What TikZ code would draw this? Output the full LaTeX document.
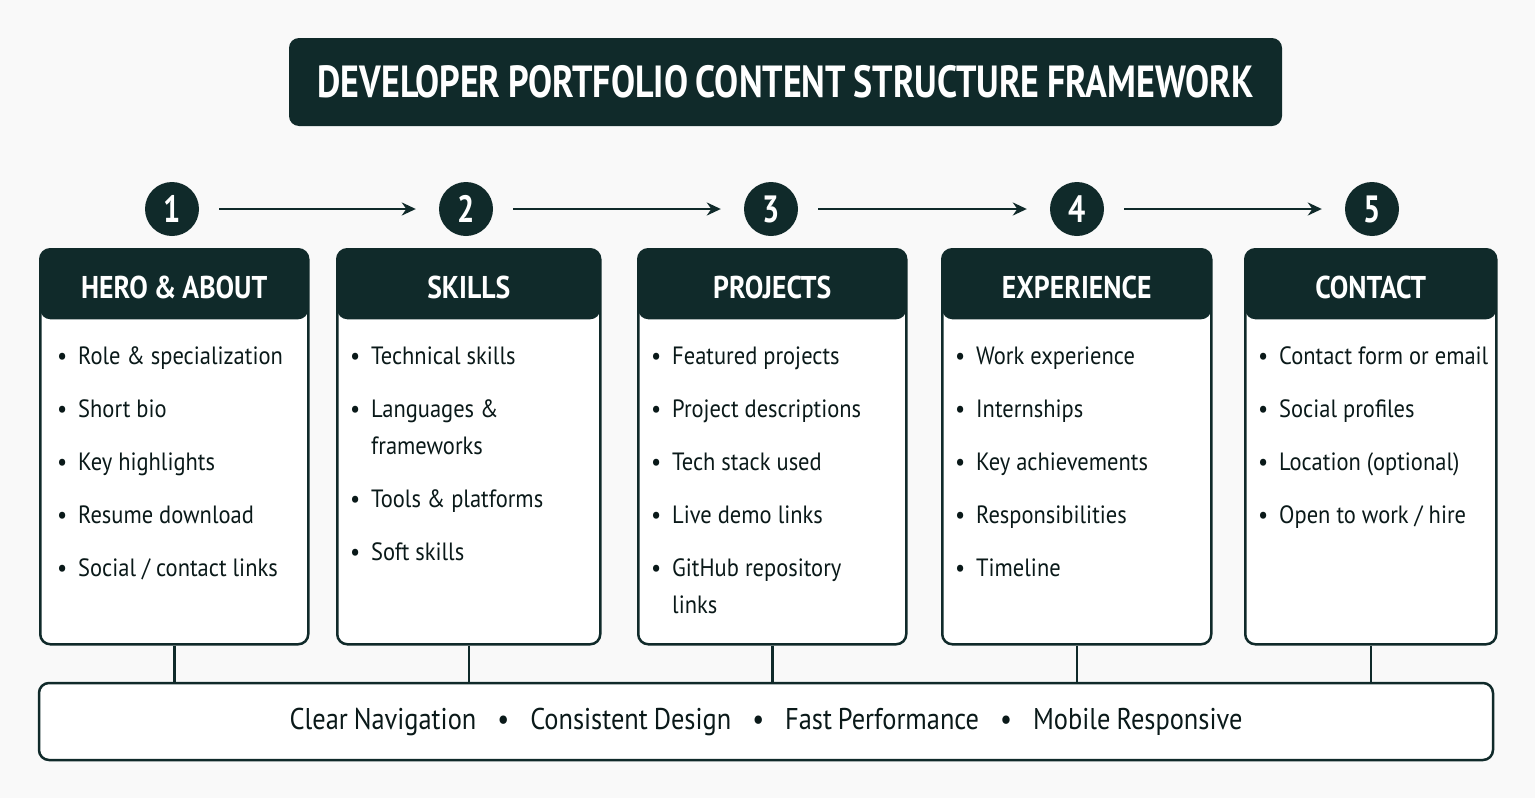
\documentclass[tikz,border=0pt]{standalone}
\usepackage{fontspec}
\setmainfont{PT Sans}[FakeStretch=0.88,WordSpace=0.85]
\newfontfamily\narrowsans{PT Sans}[FakeStretch=0.8,WordSpace=0.85]
\newfontfamily\itemsans{PT Sans}[FakeStretch=0.9]
\usetikzlibrary{arrows.meta}

\definecolor{deepteal}{HTML}{102A2A}
\definecolor{paper}{HTML}{F9F9F9}

\hyphenpenalty=10000
\exhyphenpenalty=10000
% one bullet line of a card, wrapped lines hang under the text
\newcommand{\pitem}[1]{\par\noindent\hangindent=21pt\hangafter=1\makebox[21pt][l]{\textbullet}#1\par}
\newcommand{\itemfont}{\itemsans\fontsize{25}{37}\selectfont\parskip=16pt\relax}
\newcommand{\sep}{\hspace{21pt}\textbullet\hspace{21pt}}

\begin{document}
\begin{tikzpicture}[x=1pt,y=-1pt,
    banner/.style={fill=deepteal, rounded corners=10pt, minimum width=993pt, minimum height=88pt,
      text=white, font=\narrowsans\bfseries\fontsize{45}{45}\selectfont},
    stepnum/.style={circle, fill=deepteal, minimum size=54pt, inner sep=0pt,
      text=white, font=\narrowsans\bfseries\fontsize{38}{38}\selectfont},
    flow/.style={draw=deepteal, line width=2.5pt, -{Stealth[length=14pt,width=13pt]},
      shorten <=20pt, shorten >=23pt},
    card/.style={draw=deepteal, line width=2.5pt, fill=white, rounded corners=10pt,
      minimum height=395pt, anchor=north west, inner sep=0pt,
      path picture={\fill[deepteal] (path picture bounding box.north west)
        rectangle ([yshift=-70pt]path picture bounding box.north east);}},
    headtxt/.style={text=white, font=\bfseries\fontsize{31.5}{31.5}\selectfont},
    items/.style={anchor=north west, inner sep=0pt, text width=250pt, align=flush left,
      font=\itemfont, text=deepteal!60!black},
    bar/.style={draw=deepteal, line width=2.5pt, fill=white, rounded corners=10pt,
      minimum width=1454pt, minimum height=77pt, text=deepteal!60!black,
      font=\fontsize{30}{30}\selectfont},
    link/.style={draw=deepteal, line width=2.5pt}]

  \fill[paper] (0,0) rectangle (1535,798);
  \useasboundingbox (0,0) rectangle (1535,798);

  % title
  \node[banner] (ttl) at (785.5,82) {DEVELOPER PORTFOLIO CONTENT STRUCTURE FRAMEWORK};

  % step numbers
  \node[stepnum] (n1) at (172,209) {1};
  \node[stepnum] (n2) at (466,209) {2};
  \node[stepnum] (n3) at (771,209) {3};
  \node[stepnum] (n4) at (1077,209) {4};
  \node[stepnum] (n5) at (1372,209) {5};
  \draw[flow] (n1) -- (n2);
  \draw[flow] (n2) -- (n3);
  \draw[flow] (n3) -- (n4);
  \draw[flow] (n4) -- (n5);

  % cards
  \node[card, minimum width=268pt] (c1) at (39,248) {};
  \node[card, minimum width=263pt] (c2) at (336,248) {};
  \node[card, minimum width=268pt] (c3) at (637,248) {};
  \node[card, minimum width=269pt] (c4) at (941,248) {};
  \node[card, minimum width=251pt] (c5) at (1244,248) {};

  % card titles
  \node[headtxt] (h1) at ([yshift=-39pt]c1.north) {HERO \& ABOUT};
  \node[headtxt] (h2) at ([yshift=-39pt]c2.north) {SKILLS};
  \node[headtxt] (h3) at ([yshift=-39pt]c3.north) {PROJECTS};
  \node[headtxt] (h4) at ([yshift=-39pt]c4.north) {EXPERIENCE};
  \node[headtxt] (h5) at ([yshift=-39pt]c5.north) {CONTACT};

  % card contents
  \node[items] (l1) at ([xshift=18pt,yshift=-63pt]c1.north west) {%
    \pitem{Role \& specialization}\pitem{Short bio}\pitem{Key highlights}%
    \pitem{Resume download}\pitem{Social / contact links}};
  \node[items] (l2) at ([xshift=14pt,yshift=-63pt]c2.north west) {%
    \pitem{Technical skills}\pitem{Languages \&\newline frameworks}%
    \pitem{Tools \& platforms}\pitem{Soft skills}};
  \node[items] (l3) at ([xshift=14pt,yshift=-63pt]c3.north west) {%
    \pitem{Featured projects}\pitem{Project descriptions}\pitem{Tech stack used}%
    \pitem{Live demo links}\pitem{GitHub repository\newline links}};
  \node[items] (l4) at ([xshift=14pt,yshift=-63pt]c4.north west) {%
    \pitem{Work experience}\pitem{Internships}\pitem{Key achievements}%
    \pitem{Responsibilities}\pitem{Timeline}};
  \node[items] (l5) at ([xshift=14pt,yshift=-63pt]c5.north west) {%
    \pitem{Contact form or email}\pitem{Social profiles}\pitem{Location (optional)}%
    \pitem{Open to work / hire}};

  % principles bar
  \node[bar] (bar) at (766,721.5) {Clear Navigation\sep Consistent Design\sep
    Fast Performance\sep Mobile Responsive};
  \foreach \c in {c1,c2,c3,c4,c5}
    \draw[link] (\c.south) -- (\c.south |- bar.north);
\end{tikzpicture}
\end{document}
